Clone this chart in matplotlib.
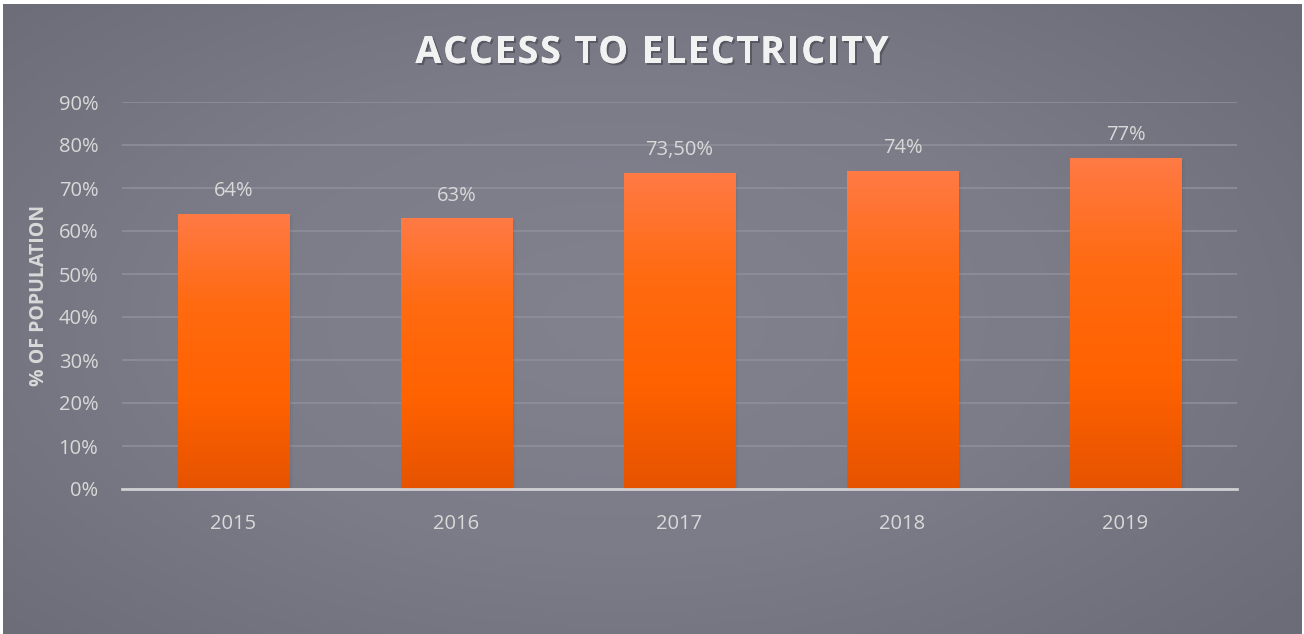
import numpy as np
import matplotlib
matplotlib.use("Agg")
import matplotlib.pyplot as plt
import matplotlib.patheffects as pe
from matplotlib.colors import LinearSegmentedColormap

### chart data
years = ["2015", "2016", "2017", "2018", "2019"]
access = [0.64, 0.63, 0.735, 0.74, 0.77]
labels = ["64%", "63%", "73,50%", "74%", "77%"]
yticks = [0, 0.1, 0.2, 0.3, 0.4, 0.5, 0.6, 0.7, 0.8, 0.9]
title = "ACCESS TO ELECTRICITY"

plt.rcParams['font.family'] = ['Open Sans', 'DejaVu Sans']

W, H = 1304, 634
fig = plt.figure(figsize=(W / 100, H / 100), dpi=100, facecolor="white")

### radial gray background
bg = fig.add_axes([3 / W, 0, (W - 5) / W, (H - 4) / H])
bg.set_axis_off()
gx, gy = np.meshgrid(np.linspace(-1, 1, 400), np.linspace(-1, 1, 200))
r = np.sqrt((gx + 0.05) ** 2 + (gy * 0.9) ** 2) / 1.35
bg_cmap = LinearSegmentedColormap.from_list("bg", ["#82828f", "#7c7c89", "#6c6c78"])
bg.imshow(r, cmap=bg_cmap, vmin=0, vmax=1, aspect="auto", extent=[0, 1, 0, 1])
bg.set_xlim(0, 1)
bg.set_ylim(0, 1)

### main plot area
ax = fig.add_axes([122 / W, 145 / H, (1237 - 122) / W, (489 - 102) / H])
ax.patch.set_alpha(0)
x = np.arange(len(years))
bars = ax.bar(x, access, width=0.5, color="#ff6a10", zorder=3)

bar_cmap = LinearSegmentedColormap.from_list("bar", ["#e65300", "#ff6200", "#ff6a10", "#ff7a45"])
grad = np.linspace(0, 1, 256).reshape(-1, 1)
for b in bars:
    bx, bw, bh = b.get_x(), b.get_width(), b.get_height()
    # soft shadow
    for k, a in enumerate([0.10, 0.07, 0.04]):
        ax.add_patch(plt.Rectangle((bx + 0.004 + k * 0.006, -0.004), bw, bh,
                                   color="#3a3a44", alpha=a, zorder=2, lw=0))
    im = ax.imshow(grad, cmap=bar_cmap, origin="lower", aspect="auto",
                   extent=[bx, bx + bw, 0, bh], zorder=3)
    im.set_clip_path(b)

for xi, v, lab in zip(x, access, labels):
    ax.annotate(lab, (xi, v), xytext=(0, 9), textcoords="offset points",
                ha="center", va="bottom", fontsize=14.5, color="#d9d9d9")

ax.set_xlim(-0.5, len(years) - 0.5)
ax.set_ylim(0, 0.9)
ax.set_yticks(yticks)
ax.set_yticklabels([f"{int(round(t * 100))}%" for t in yticks])
ax.set_xticks(x)
ax.set_xticklabels(years)
ax.tick_params(axis="both", length=0, labelsize=14.5, colors="#d9d9d9")
ax.tick_params(axis="x", pad=18)
ax.tick_params(axis="y", pad=17)
ax.grid(axis="y", color="#8f8f9c", lw=1.2, zorder=0)
for s in ["top", "right", "left"]:
    ax.spines[s].set_visible(False)
ax.spines["bottom"].set_color("#d0d0d4")
ax.spines["bottom"].set_linewidth(2)
ax.spines["bottom"].set_zorder(4)

ax.set_ylabel("% OF POPULATION", fontsize=14, fontweight="bold", color="#d9d9d9", labelpad=7)

### title, drawn letter by letter for the wide tracking
shadow = [pe.withSimplePatchShadow(offset=(1.5, -1.5), shadow_rgbFace="#3a3a44", alpha=0.5), pe.Normal()]
renderer = fig.canvas.get_renderer()
chars = []
for ch in title:
    t = fig.text(0, 1 - 53 / H, ch, ha="left", va="center", fontsize=27,
                 fontweight="bold", color="#f2f2f2", path_effects=shadow)
    chars.append((t, t.get_window_extent(renderer).width if ch != " " else 10))
track = 1.9
total = sum(w for _, w in chars) + track * (len(chars) - 1)
xpos = 652 - total / 2
for t, w in chars:
    t.set_x(xpos / W)
    xpos += w + track

fig.savefig("out.png", dpi=100, facecolor="white")
